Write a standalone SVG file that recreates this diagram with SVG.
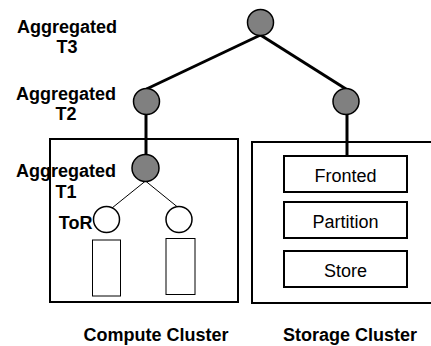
<svg xmlns="http://www.w3.org/2000/svg" width="431" height="346" viewBox="0 0 431 346">
<style>
.lbl{font-family:"Liberation Sans",Arial,sans-serif;font-size:18px;font-weight:bold;fill:#000}
.txt{font-family:"Liberation Sans",Arial,sans-serif;font-size:18px;fill:#000}
.agg{fill:#808080;stroke:#000;stroke-width:1.5}
.tor{fill:#fff;stroke:#000;stroke-width:1.5}
.box{fill:#fff;stroke:#000;stroke-width:2}
.srv{fill:#fff;stroke:#000;stroke-width:1}
.thick{stroke:#000;stroke-width:3;fill:none}
.thin{stroke:#000;stroke-width:1;fill:none}
</style>
<rect width="431" height="346" fill="#fff"/>
<g id="compute-cluster"><rect class="box" x="50" y="139" width="188" height="163"/></g>
<g id="storage-cluster"><rect class="box" x="252" y="142" width="190" height="161"/></g>
<g id="connectors">
<line class="thick" x1="260.5" y1="35" x2="146.5" y2="89"/>
<line class="thick" x1="260.5" y1="35" x2="346" y2="89"/>
<line class="thick" x1="146" y1="114" x2="146" y2="155"/>
<line class="thick" x1="347" y1="114" x2="347" y2="157"/>
<line class="thin" x1="145.5" y1="181" x2="112" y2="208"/>
<line class="thin" x1="145.5" y1="181" x2="180" y2="209"/>
</g>
<g id="t3"><circle class="agg" cx="260.5" cy="22.5" r="13"/></g>
<g id="t2-left"><circle class="agg" cx="146.5" cy="101.5" r="13"/></g>
<g id="t2-right"><circle class="agg" cx="346" cy="101.5" r="13"/></g>
<g id="t1"><circle class="agg" cx="145.5" cy="168" r="13.5"/></g>
<g id="tor-left"><circle class="tor" cx="106.5" cy="219.5" r="13"/></g>
<g id="tor-right"><circle class="tor" cx="179" cy="219.5" r="13"/></g>
<g id="server-left"><rect class="srv" x="92.5" y="240" width="28" height="56"/></g>
<g id="server-right"><rect class="srv" x="166" y="238.5" width="29" height="56"/></g>
<g id="fronted"><rect class="box" x="284" y="156" width="123" height="36"/><text class="txt" x="345.5" y="181.5" text-anchor="middle">Fronted</text></g>
<g id="partition"><rect class="box" x="284" y="202" width="123" height="36"/><text class="txt" x="345.5" y="227.5" text-anchor="middle">Partition</text></g>
<g id="store"><rect class="box" x="284" y="251" width="123" height="36"/><text class="txt" x="345.5" y="276.5" text-anchor="middle">Store</text></g>
<g id="labels">
<text class="lbl" x="67" y="32.5" text-anchor="middle">Aggregated</text>
<text class="lbl" x="67" y="52.5" text-anchor="middle">T3</text>
<text class="lbl" x="66" y="100" text-anchor="middle">Aggregated</text>
<text class="lbl" x="66" y="120" text-anchor="middle">T2</text>
<text class="lbl" x="66" y="176.5" text-anchor="middle">Aggregated</text>
<text class="lbl" x="66" y="197.5" text-anchor="middle">T1</text>
<text class="lbl" x="92.5" y="229" text-anchor="end">ToR</text>
<text class="lbl" x="156" y="340.5" text-anchor="middle">Compute Cluster</text>
<text class="lbl" x="350" y="340.5" text-anchor="middle">Storage Cluster</text>
</g>
</svg>
